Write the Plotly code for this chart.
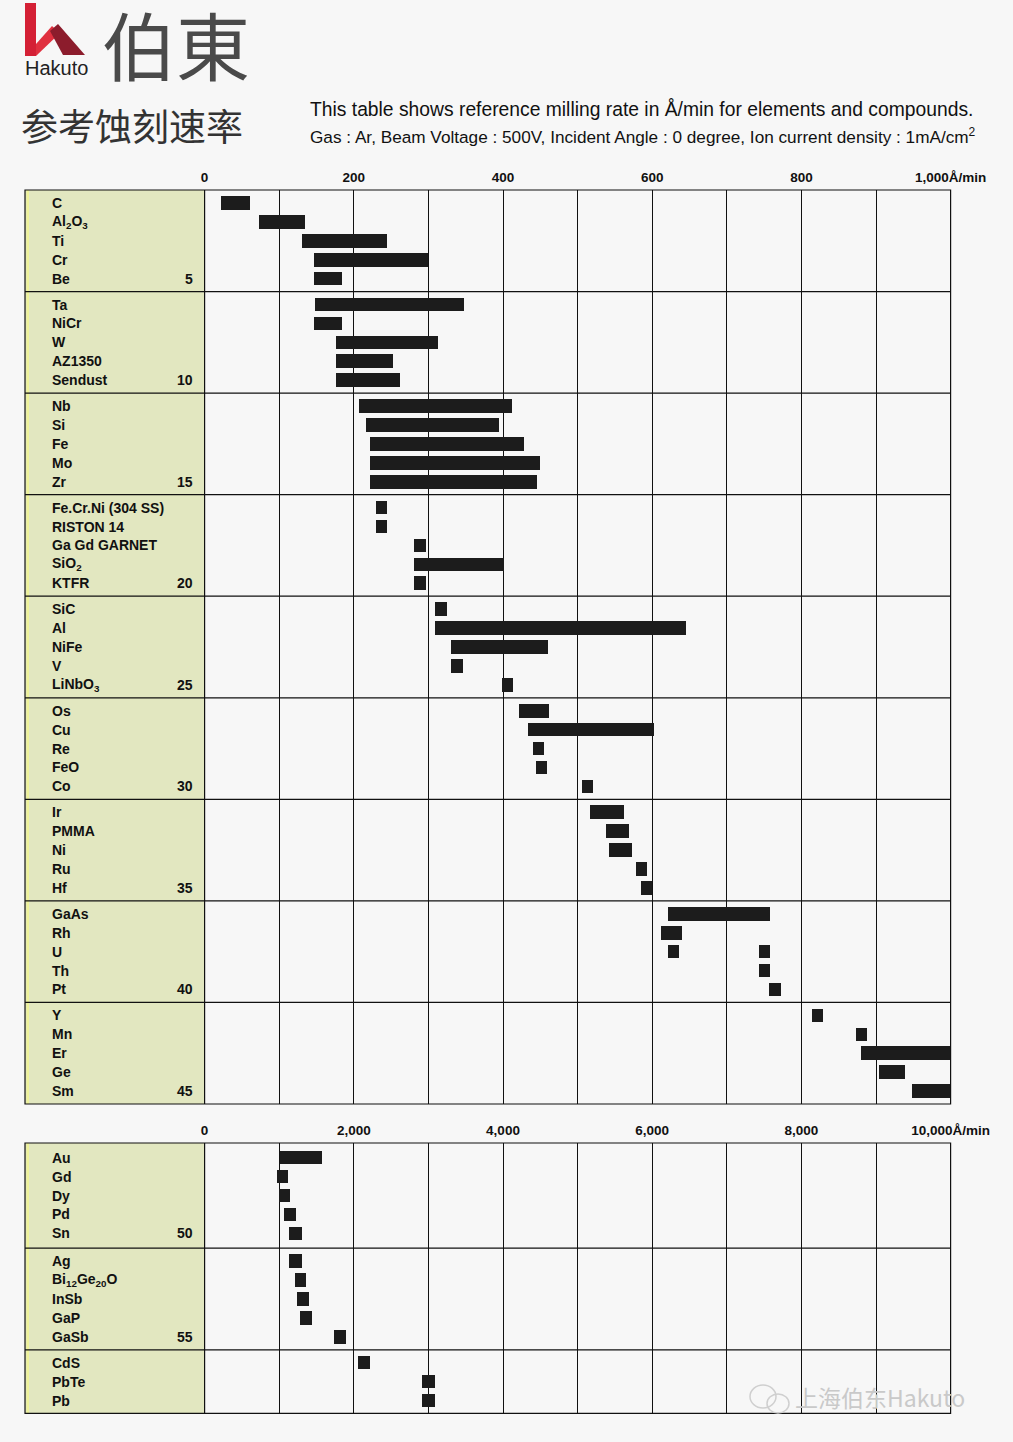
import plotly.graph_objects as go

# ---------------- data (Å/min) ----------------
top_labels = ["C", "Al<sub>2</sub>O<sub>3</sub>", "Ti", "Cr", "Be",
              "Ta", "NiCr", "W", "AZ1350", "Sendust",
              "Nb", "Si", "Fe", "Mo", "Zr",
              "Fe.Cr.Ni (304 SS)", "RISTON 14", "Ga Gd GARNET", "SiO<sub>2</sub>", "KTFR",
              "SiC", "Al", "NiFe", "V", "LiNbO<sub>3</sub>",
              "Os", "Cu", "Re", "FeO", "Co",
              "Ir", "PMMA", "Ni", "Ru", "Hf",
              "GaAs", "Rh", "U", "Th", "Pt",
              "Y", "Mn", "Er", "Ge", "Sm"]
top_start = [22, 73, 130, 146, 146,
             148, 146, 176, 176, 176,
             207, 216, 221, 221, 221,
             229, 229, 280, 280, 280,
             308, 308, 330, 330, 398,
             421, 433, 440, 444, 505,
             516, 538, 542, 578, 585,
             620, 611, 620, 742, 756,
             813, 873, 880, 903, 948]
top_end = [60, 134, 244, 299, 184,
           347, 184, 312, 252, 261,
           411, 394, 427, 449, 445,
           244, 244, 296, 401, 296,
           324, 645, 460, 346, 413,
           461, 602, 455, 458, 520,
           561, 568, 572, 593, 599,
           757, 640, 636, 758, 772,
           828, 888, 1000, 938, 1000]
# second bar drawn on the "U" row
top_extra_labels = ["U"]
top_extra_start = [742]
top_extra_end = [758]

bottom_labels = ["Au", "Gd", "Dy", "Pd", "Sn",
                 "Ag", "Bi<sub>12</sub>Ge<sub>20</sub>O", "InSb", "GaP", "GaSb",
                 "CdS", "PbTe", "Pb"]
bottom_start = [1001, 966, 993, 1064, 1122,
                1127, 1202, 1238, 1279, 1734,
                2052, 2914, 2914]
bottom_end = [1570, 1108, 1135, 1221, 1301,
              1305, 1355, 1399, 1435, 1891,
              2217, 3088, 3088]

top_tickvals = [0, 200, 400, 600, 800, 1000]
top_ticktext = ["0", "200", "400", "600", "800", "1,000Å/min"]
bottom_tickvals = [0, 2000, 4000, 6000, 8000, 10000]
bottom_ticktext = ["0", "2,000", "4,000", "6,000", "8,000", "10,000Å/min"]

# ---------------- geometry ----------------
W, H = 1013, 1442
def px(x):
    return x / W
def py(y):
    return 1 - y / H

BG = "#f7f7f7"
PANEL = "#e2e7c0"
BAR = "#1c1c1c"
FONT = "Liberation Sans"
TXT = "#111111"

PANEL_L, X0, X1 = 25, 204.6, 950.6
top_groups = [5] * 9
top_gh = [5.37] * 9
bot_groups = [5, 5, 3]
bot_gh = [5.55, 5.38, 3.35]

def positions(groups, gh):
    pos, bounds, acc = [], [0.0], 0.0
    for n, g in zip(groups, gh):
        off = (g - (n - 1)) / 2
        pos += [acc + off + j for j in range(n)]
        acc += g
        bounds.append(acc)
    return pos, bounds

top_pos, top_bounds = positions(top_groups, top_gh)
bot_pos, bot_bounds = positions(bot_groups, bot_gh)

fig = go.Figure()

fig.add_trace(go.Bar(
    y=top_pos, base=top_start, x=[e - s for s, e in zip(top_start, top_end)],
    orientation="h", width=0.72, marker=dict(color=BAR, line=dict(width=0)),
    xaxis="x", yaxis="y", showlegend=False, hoverinfo="skip"))
extra_pos = [top_pos[top_labels.index(l)] for l in top_extra_labels]
fig.add_trace(go.Bar(
    y=extra_pos, base=top_extra_start, x=[e - s for s, e in zip(top_extra_start, top_extra_end)],
    orientation="h", width=0.72, marker=dict(color=BAR, line=dict(width=0)),
    xaxis="x", yaxis="y", showlegend=False, hoverinfo="skip"))
fig.add_trace(go.Bar(
    y=bot_pos, base=bottom_start, x=[e - s for s, e in zip(bottom_start, bottom_end)],
    orientation="h", width=0.72, marker=dict(color=BAR, line=dict(width=0)),
    xaxis="x2", yaxis="y2", showlegend=False, hoverinfo="skip"))

shapes, annotations = [], []

def chart_frame(yref, bounds, ytop_px, ybot_px):
    shapes.append(dict(type="rect", xref="paper", yref="paper",
                       x0=px(PANEL_L), x1=px(X0), y0=py(ybot_px), y1=py(ytop_px),
                       fillcolor=PANEL, line=dict(width=0), layer="below"))
    shapes.append(dict(type="rect", xref="paper", yref="paper",
                       x0=px(PANEL_L + 1.5), x1=px(PANEL_L + 4), y0=py(ybot_px), y1=py(ytop_px),
                       fillcolor="#eef29a", line=dict(width=0), layer="below"))
    shapes.append(dict(type="rect", xref="paper", yref="paper",
                       x0=px(PANEL_L), x1=px(X1), y0=py(ybot_px), y1=py(ytop_px),
                       line=dict(color="#111", width=1.2), layer="above"))
    shapes.append(dict(type="line", xref="paper", yref="paper",
                       x0=px(X0), x1=px(X0), y0=py(ybot_px), y1=py(ytop_px),
                       line=dict(color="#111", width=1.2), layer="above"))
    for b in bounds[1:-1]:
        shapes.append(dict(type="line", xref="paper", yref=yref,
                           x0=px(PANEL_L), x1=px(X1), y0=b, y1=b,
                           line=dict(color="#111", width=1.2), layer="above"))

chart_frame("y", top_bounds, 190, 1104)
chart_frame("y2", bot_bounds, 1143, 1413.3)

def row_labels(labels, pos, yref, start_num):
    for i, (lab, p) in enumerate(zip(labels, pos)):
        annotations.append(dict(text=lab, xref="paper", yref=yref, x=px(50), y=p,
                                xanchor="left", yanchor="middle", showarrow=False,
                                font=dict(family=FONT, size=14, color=TXT, weight="bold")))
        n = start_num + i
        if n % 5 == 0:
            annotations.append(dict(text=str(n), xref="paper", yref=yref, x=px(195), y=p,
                                    xanchor="right", yanchor="middle", showarrow=False,
                                    font=dict(family=FONT, size=14, color=TXT, weight="bold")))

row_labels(top_labels, top_pos, "y", 1)
row_labels(bottom_labels, bot_pos, "y2", 46)

# header
annotations += [
    dict(text="伯東", xref="paper", yref="paper", x=px(100), y=py(43), xanchor="left",
         yanchor="middle", showarrow=False,
         font=dict(family="Noto Sans CJK JP", size=74, color="#4a4a4a")),
    dict(text="Hakuto", xref="paper", yref="paper", x=px(23), y=py(68), xanchor="left",
         yanchor="middle", showarrow=False,
         font=dict(family=FONT, size=20, color="#222")),
    dict(text="参考蚀刻速率", xref="paper", yref="paper", x=px(19), y=py(125), xanchor="left",
         yanchor="middle", showarrow=False,
         font=dict(family="Noto Sans CJK SC", size=37, color="#333")),
    dict(text="This table shows reference milling rate in Å/min for elements and compounds.",
         xref="paper", yref="paper", x=px(308), y=py(109), xanchor="left", yanchor="middle",
         showarrow=False, font=dict(family=FONT, size=19.3, color=TXT)),
    dict(text="Gas : Ar, Beam Voltage : 500V, Incident Angle : 0 degree, Ion current density : 1mA/cm<sup>2</sup>",
         xref="paper", yref="paper", x=px(308), y=py(136), xanchor="left", yanchor="middle",
         showarrow=False, font=dict(family=FONT, size=17.2, color=TXT)),
    dict(text="上海伯东Hakuto", xref="paper", yref="paper", x=px(793), y=py(1397),
         xanchor="left", yanchor="middle", showarrow=False,
         font=dict(family="Noto Sans CJK SC", size=23, color="#c9c9c9")),
]

# logo
shapes += [
    dict(type="rect", xref="paper", yref="paper", x0=px(25), x1=px(36), y0=py(56), y1=py(3),
         fillcolor="#d42035", line=dict(width=0)),
    dict(type="path", xref="paper", yref="paper",
         path=f"M {px(36)},{py(44)} L {px(52)},{py(26)} L {px(60)},{py(33)} L {px(36)},{py(56)} Z",
         fillcolor="#e0303f", line=dict(width=0)),
    dict(type="path", xref="paper", yref="paper",
         path=f"M {px(50)},{py(31)} L {px(58)},{py(24)} L {px(85)},{py(55)} L {px(63)},{py(55)} Z",
         fillcolor="#8c1c2c", line=dict(width=0)),
    dict(type="circle", xref="paper", yref="paper", x0=px(750), x1=px(776), y0=py(1408), y1=py(1385),
         line=dict(color="#cfcfcf", width=1.5)),
    dict(type="circle", xref="paper", yref="paper", x0=px(767), x1=px(789), y0=py(1413), y1=py(1394),
         line=dict(color="#cfcfcf", width=1.5)),
]

axis_common = dict(side="top", showline=False, zeroline=False, automargin=False,
                   showgrid=True, gridcolor="#111", gridwidth=1,
                   ticks="", ticklabelstandoff=4,
                   tickfont=dict(family=FONT, size=13.5, color=TXT, weight="bold"),
                   tickmode="array", fixedrange=True)

fig.update_layout(
    width=W, height=H, margin=dict(l=0, r=0, t=0, b=0, autoexpand=False),
    paper_bgcolor=BG, plot_bgcolor=BG, barmode="overlay", bargap=0,
    xaxis=dict(domain=[px(X0), px(X1)], range=[0, 1000], anchor="y",
               tickvals=top_tickvals, ticktext=top_ticktext,
               minor=dict(tickmode="linear", tick0=0, dtick=100, showgrid=True,
                          gridcolor="#111", gridwidth=1),
               **axis_common),
    yaxis=dict(domain=[py(1104), py(190)], range=[top_bounds[-1], 0], anchor="x",
               showgrid=False, zeroline=False, showticklabels=False, fixedrange=True,
               automargin=False),
    xaxis2=dict(domain=[px(X0), px(X1)], range=[0, 10000], anchor="y2",
                tickvals=bottom_tickvals, ticktext=bottom_ticktext,
                minor=dict(tickmode="linear", tick0=0, dtick=1000, showgrid=True,
                           gridcolor="#111", gridwidth=1),
                **axis_common),
    yaxis2=dict(domain=[py(1413.3), py(1143)], range=[bot_bounds[-1], 0], anchor="x2",
                showgrid=False, zeroline=False, showticklabels=False, fixedrange=True,
                automargin=False),
    shapes=shapes, annotations=annotations,
)

fig.write_html("out.html", config={"displayModeBar": False},
               post_script="document.body.style.margin='0';document.body.style.overflow='hidden';")
